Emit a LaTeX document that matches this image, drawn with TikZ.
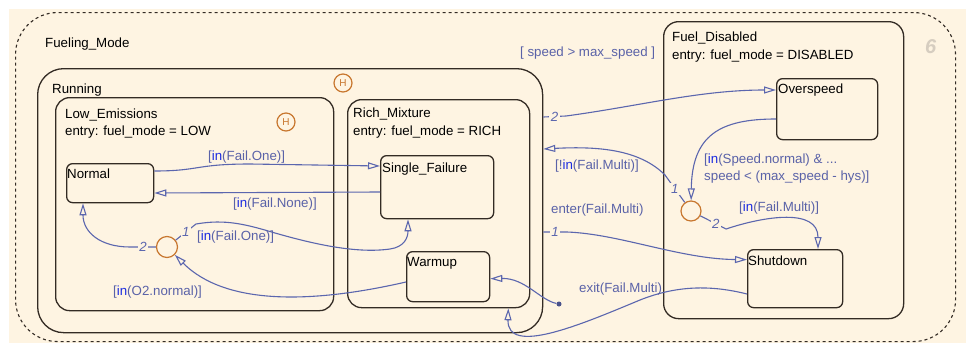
\documentclass[tikz,border=0pt]{standalone}
\usepackage{fontspec}
\setmainfont{Liberation Sans}
\usepackage{xcolor}
\usetikzlibrary{arrows.meta,positioning}

\definecolor{bgc}{HTML}{FEF4E2}
\definecolor{edgec}{HTML}{332B24}
\definecolor{transc}{HTML}{5B66AE}
\definecolor{guardc}{HTML}{5A62A8}
\definecolor{kwc}{HTML}{1B2BE0}
\definecolor{juncc}{HTML}{C8772F}
\definecolor{chartno}{HTML}{D6CDC0}

\newcommand{\chartfont}{\fontsize{13.3}{16}\selectfont}
\newcommand{\kw}[1]{\textcolor{kwc}{#1}}

\tikzset{%
	state/.style      = {draw=edgec, line width=1.3pt, rounded corners=6pt, anchor=north west, inner sep=0pt}, % leaf state
	superstate/.style = {state, rounded corners=14pt}, % state with children
	title/.style      = {anchor=base west, inner sep=0pt, text=black},
	junction/.style   = {draw=juncc, circle, line width=1.2pt, minimum size=20pt, inner sep=0pt},
	history/.style    = {junction, minimum size=18pt, text=juncc, font=\fontsize{10}{10}\selectfont},
	trans/.style      = {draw=transc, line width=1.1pt, -{Triangle[open, length=12pt, width=7pt]}},
	guard/.style      = {anchor=base west, inner sep=0pt, text=guardc},
	order/.style      = {text=transc, fill=bgc, inner sep=1.5pt, font=\chartfont\itshape}, % execution order
	defdot/.style     = {circle, fill=transc!80!black, minimum size=5pt, inner sep=0pt}, % default transition
}

\begin{document}
\begin{tikzpicture}[x=1pt, y=-1pt, font=\chartfont]
	\useasboundingbox (0,0) rectangle (966,343);
	\fill[white] (0,0) rectangle (966,343);
	\fill[bgc] (9,9) rectangle (966,343);

	% states
	\node[superstate, dashed, dash pattern=on 3pt off 3pt, line width=1.1pt, rounded corners=42pt,
		minimum width=940, minimum height=329] (fueling) at (15,12) {};
	\node[superstate, rounded corners=26pt, minimum width=505, minimum height=264] (running) at (37,68) {};
	\node[superstate, minimum width=278, minimum height=213] (lowem) at (55,97) {};
	\node[superstate, minimum width=182, minimum height=208] (rich) at (347,99) {};
	\node[state, minimum width=87, minimum height=39] (normal) at (66,163) {};
	\node[state, minimum width=113, minimum height=63] (sfail) at (380,155) {};
	\node[state, minimum width=83, minimum height=50] (warmup) at (406,251) {};
	\node[superstate, rounded corners=15pt, minimum width=240, minimum height=297] (fueldis) at (663,21) {};
	\node[state, minimum width=101, minimum height=61] (overspeed) at (776,78) {};
	\node[state, minimum width=95, minimum height=58] (shutdown) at (747,249) {};

	% state texts
	\node[title] (fueling-t) at (45,47) {Fueling\_Mode};
	\node[title] (running-t) at (52,93) {Running};
	\node[title] (lowem-t) at (65,118) {Low\_Emissions};
	\node[title] (lowem-e) at (65,135) {entry: fuel\_mode = LOW};
	\node[title] (rich-t) at (353,117) {Rich\_Mixture};
	\node[title] (rich-e) at (353,135) {entry: fuel\_mode = RICH};
	\node[title] (normal-t) at (67,178) {Normal};
	\node[title] (sfail-t) at (382,172) {Single\_Failure};
	\node[title] (warmup-t) at (407,266) {Warmup};
	\node[title] (fueldis-t) at (672,41) {Fuel\_Disabled};
	\node[title] (fueldis-e) at (672,59) {entry: fuel\_mode = DISABLED};
	\node[title] (overspeed-t) at (778,93) {Overspeed};
	\node[title] (shutdown-t) at (748,265) {Shutdown};
	\node[title, text=chartno, font=\fontsize{20}{20}\selectfont\bfseries\itshape] (chart-no) at (925,53) {6};

	% junctions
	\node[history] (hrun) at (343,83) {H};
	\node[history] (hlow) at (286,122) {H};
	\node[junction, minimum size=21pt] (jl) at (167,247) {};
	\node[junction] (jr) at (691,211) {};
	\node[defdot] (d0) at (559,304) {};

	% transitions inside Running
	\draw[trans] ([yshift=-8pt]normal.north east) .. controls (200,171) and (195,164) .. (250,164) -- ([yshift=-11pt]sfail.north west);
	\draw[trans] ([yshift=-37pt]sfail.north west) -- ([yshift=-30pt]normal.north east);
	\draw[trans] ([yshift=-31pt]warmup.north west) .. controls (310,304) and (225,305) .. (jl);
	\draw[trans] (jl) -- node[order] {1} (196,224) .. controls (225,219) and (245,224) .. (275,233)
		.. controls (310,243) and (355,254) .. (390,249) .. controls (404,247) and (408,238) .. ([xshift=28pt]sfail.south west);
	\draw[trans] (jl) -- node[order] {2} (130,247) .. controls (100,247) and (83,232) .. ([xshift=17pt]normal.south west);
	\draw[trans] (d0) .. controls (540,300) and (525,278) .. ([yshift=-2pt]warmup.east);

	% transitions between Running and Fuel_Disabled
	\draw[trans] ([yshift=-49pt]running.north east) -- node[order] {2} (566,116) .. controls (640,106) and (700,90) .. ([yshift=-12pt]overspeed.north west);
	\draw[trans] (jr) -- node[order] {1} (665,175) .. controls (640,150) and (600,146) .. ([yshift=-81pt]running.north east);
	\draw[trans] ([yshift=-41pt]overspeed.north west) .. controls (720,119) and (692,135) .. (jr);
	\draw[trans] (jr) -- node[order, pos=0.6] {2} (726,229) .. controls (765,216) and (818,208) .. ([xshift=71pt]shutdown.north west);
	\draw[trans] ([yshift=-164pt]running.north east) -- node[order] {1} (567,232) .. controls (620,234) and (680,259) .. ([yshift=19pt]shutdown.west);
	\draw[trans] ([yshift=-45pt]shutdown.north west) .. controls (715,286) and (680,284) .. (640,300)
		.. controls (580,325) and (507,356) .. ([xshift=-22pt]rich.south east);

	% guards and events
	\node[guard] (g-one-a) at (208,160) {[\kw{in}(Fail.One)]};
	\node[guard] (g-none) at (233,207) {[\kw{in}(Fail.None)]};
	\node[guard] (g-o2) at (113,295) {[\kw{in}(O2.normal)]};
	\node[guard] (g-one-b) at (197,240) {[\kw{in}(Fail.One)]};
	\node[guard] (g-speed) at (520,56) {[ speed > max\_speed ]};
	\node[guard] (g-notmulti) at (555,169) {[!\kw{in}(Fail.Multi)]};
	\node[guard] (g-normal-a) at (704,163) {[\kw{in}(Speed.normal) \& ...};
	\node[guard] (g-normal-b) at (704,180) {speed < (max\_speed - hys)]};
	\node[guard] (g-multi) at (739,211) {[\kw{in}(Fail.Multi)]};
	\node[guard] (g-enter) at (551,213) {enter(Fail.Multi)};
	\node[guard] (g-exit) at (579,292) {exit(Fail.Multi)};
\end{tikzpicture}
\end{document}
